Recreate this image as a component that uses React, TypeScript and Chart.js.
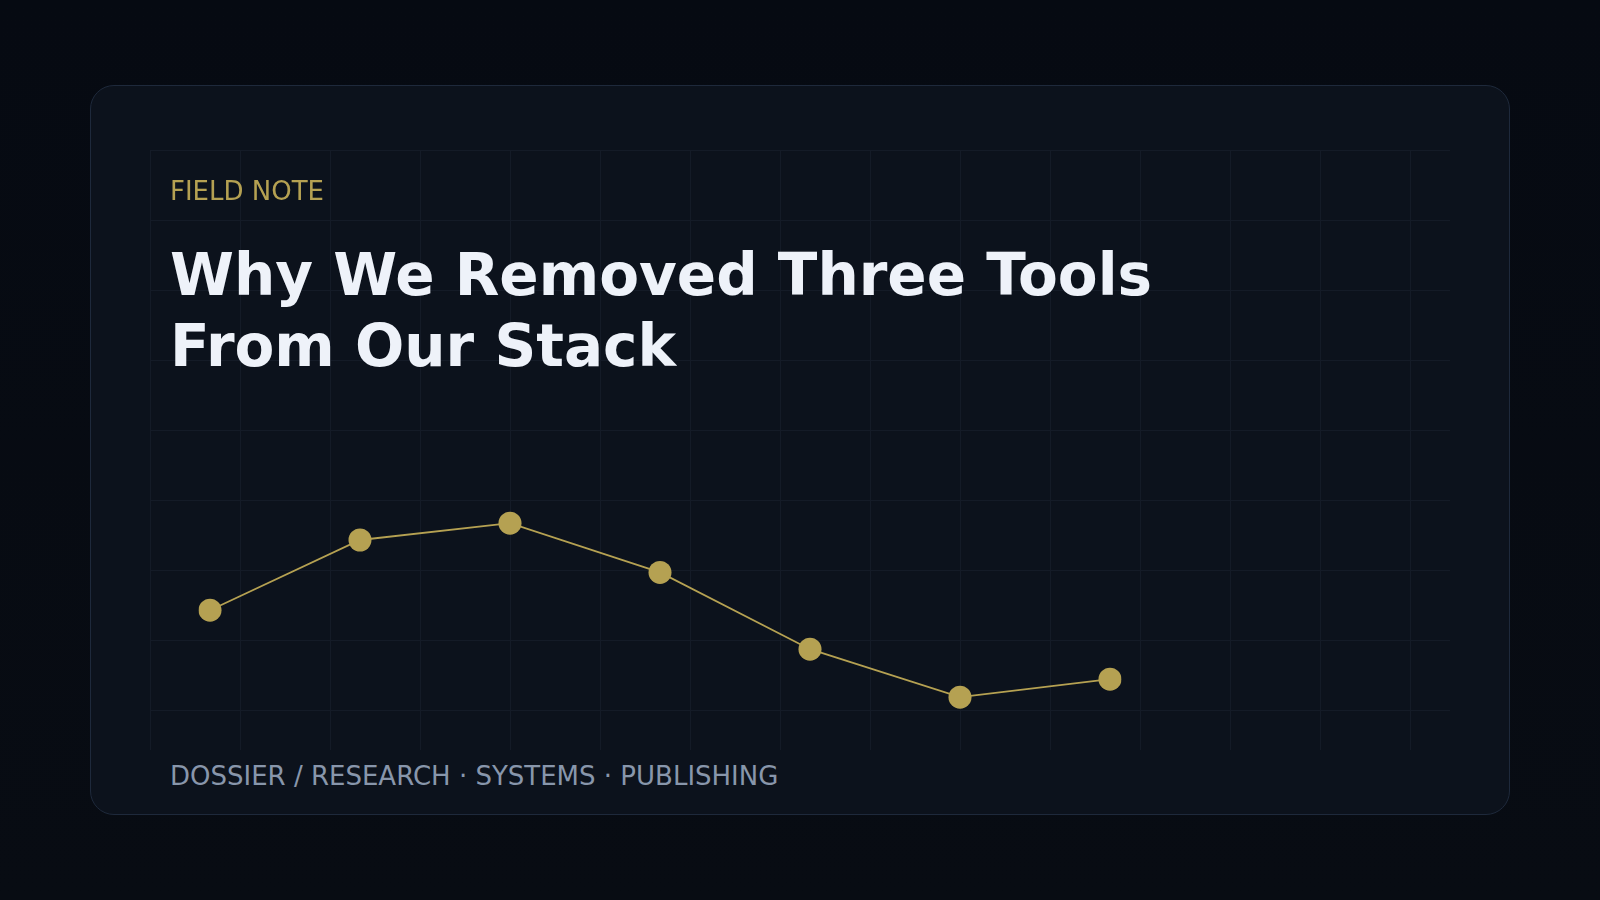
import { useEffect, useRef } from 'react'
import { Chart, registerables, type ChartConfiguration } from 'chart.js'

Chart.register(...registerables)

// weekly stack load (hidden axes, only the trend is shown)
const weeks = ['W1', 'W2', 'W3', 'W4', 'W5', 'W6', 'W7']
const load = [23.3, 35.0, 37.8, 29.6, 16.8, 8.8, 11.8]
const yMin = 0
const yMax = 100

const kicker = 'FIELD NOTE'
const titleLines = ['Why We Removed Three Tools', 'From Our Stack']
const footer = 'DOSSIER / RESEARCH · SYSTEMS · PUBLISHING'

const gold = '#b5a152'
const font = '"DejaVu Sans", Verdana, sans-serif'

function TrendLine() {
  const ref = useRef<HTMLCanvasElement>(null)
  const chartRef = useRef<Chart | null>(null)

  useEffect(() => {
    if (!ref.current) return
    chartRef.current?.destroy()
    const config: ChartConfiguration = {
      type: 'line',
      data: {
        labels: weeks,
        datasets: [{
          data: load,
          borderColor: gold,
          borderWidth: 1.8,
          pointRadius: 11.5,
          pointHoverRadius: 11.5,
          pointBackgroundColor: gold,
          pointBorderWidth: 0,
          tension: 0,
          fill: false,
        }],
      },
      options: {
        responsive: false,
        animation: false,
        layout: { autoPadding: false, padding: { left: 60, right: 340, top: 0, bottom: 0 } },
        plugins: { legend: { display: false }, tooltip: { enabled: false } },
        scales: {
          x: { display: false, offset: false },
          y: { display: false, min: yMin, max: yMax },
        },
      },
    }
    chartRef.current = new Chart(ref.current, config)
    return () => chartRef.current?.destroy()
  }, [])

  return <canvas ref={ref} width={1300} height={600} style={{ position: 'absolute', left: 0, top: 0, width: 1300, height: 600 }} />
}

export default function App() {
  return (
    <div style={{
      position: 'fixed', left: 0, top: 0, width: 1600, height: 900,
      background: 'linear-gradient(180deg, #060a12 0%, #080c13 100%)',
      fontFamily: font,
    }}>
      <div style={{
        position: 'absolute', left: 90, top: 85, width: 1420, height: 730, boxSizing: 'border-box',
        background: '#0c121c', border: '1px solid #1e293b', borderRadius: 24,
      }} />
      <div style={{
        position: 'absolute', left: 150, top: 150, width: 1300, height: 600,
        backgroundImage: 'linear-gradient(to right, #141b27 1px, transparent 1px), linear-gradient(to bottom, #141b27 1px, transparent 1px)',
        backgroundSize: '90px 70px',
      }}>
        <TrendLine />
      </div>
      <div style={{ position: 'absolute', left: 170, top: 178, fontSize: 26, lineHeight: '26px', color: '#b5a152', whiteSpace: 'nowrap' }}>
        {kicker}
      </div>
      <div style={{ position: 'absolute', left: 170, top: 239.5, fontSize: 58, lineHeight: '71px', fontWeight: 700, color: '#eef2f9', whiteSpace: 'nowrap' }}>
        {titleLines.map(l => <div key={l}>{l}</div>)}
      </div>
      <div style={{ position: 'absolute', left: 170, top: 763, fontSize: 26, lineHeight: '26px', color: '#8896ab', whiteSpace: 'nowrap' }}>
        {footer}
      </div>
    </div>
  )
}
